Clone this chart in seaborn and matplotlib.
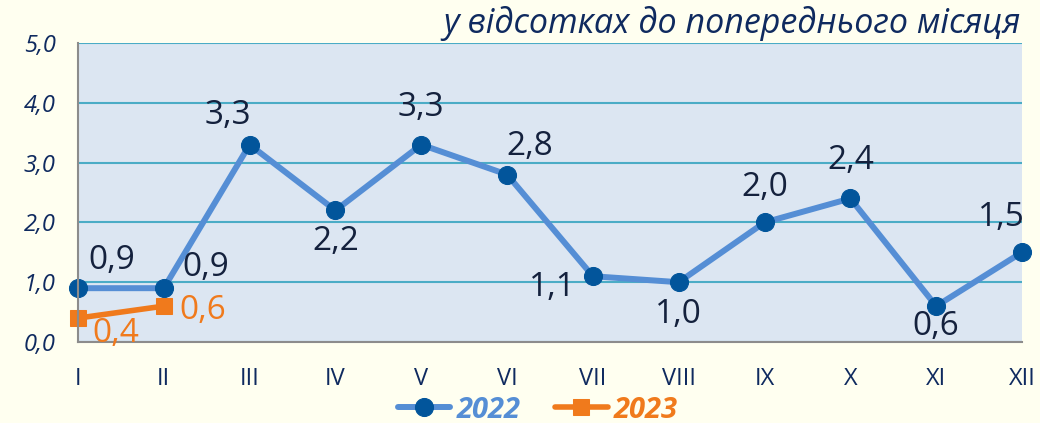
import matplotlib
matplotlib.use('Agg')
import matplotlib.pyplot as plt
import pandas as pd
import seaborn as sns

# dados
months = ['I', 'II', 'III', 'IV', 'V', 'VI', 'VII', 'VIII', 'IX', 'X', 'XI', 'XII']
values_2022 = [0.9, 0.9, 3.3, 2.2, 3.3, 2.8, 1.1, 1.0, 2.0, 2.4, 0.6, 1.5]
months_2023 = ['I', 'II']
values_2023 = [0.4, 0.6]
y_ticks = [0.0, 1.0, 2.0, 3.0, 4.0, 5.0]
title = 'у відсотках до попереднього місяця'

# deslocamento dos rótulos (pontos) - estilo
offsets_2022 = [(24, 20), (30, 15), (-16, 21), (0, -22), (0, 27), (16, 20),
                (-29, -8), (0, -23), (0, 25), (0, 27), (0, -15), (-15, 25)]
offsets_2023 = [(27, -11), (28, -3)]

df22 = pd.DataFrame({'month': months, 'value': values_2022})
df23 = pd.DataFrame({'month': months_2023, 'value': values_2023})

sns.set_style('white')
plt.rcParams['font.family'] = ['Open Sans', 'DejaVu Sans']

navy = '#0f2a5f'
blue_line = '#558ed5'
blue_dot = '#02559b'
orange = '#f07a1c'

fig, ax = plt.subplots(figsize=(10.4, 4.23), dpi=100)
fig.patch.set_facecolor('#fffff0')
ax.set_facecolor('#dce6f2')
fig.subplots_adjust(left=0.075, right=0.9827, top=0.8983, bottom=0.1915)

sns.lineplot(data=df22, x='month', y='value', ax=ax, color=blue_line, linewidth=4.3,
             marker='o', markersize=13, markerfacecolor=blue_dot,
             markeredgecolor=blue_dot, sort=False, label='2022', clip_on=False)
sns.lineplot(data=df23, x='month', y='value', ax=ax, color=orange, linewidth=4,
             marker='s', markersize=11, markerfacecolor=orange,
             markeredgecolor=orange, sort=False, label='2023', clip_on=False)

for i, (v, off) in enumerate(zip(values_2022, offsets_2022)):
    ax.annotate(f'{v:.1f}'.replace('.', ','), (i, v), xytext=off,
                textcoords='offset points', ha='center', va='center',
                fontsize=24, color='#14213d')
for i, (v, off) in enumerate(zip(values_2023, offsets_2023)):
    ax.annotate(f'{v:.1f}'.replace('.', ','), (i, v), xytext=off,
                textcoords='offset points', ha='center', va='center',
                fontsize=24, color=orange)

ax.set_xlim(0, len(months) - 1)
ax.set_ylim(0, 5)
ax.set_yticks(y_ticks)
ax.set_yticklabels([f'{t:.1f}'.replace('.', ',') for t in y_ticks],
                   fontsize=17, style='italic', color=navy)
ax.set_xticks(range(len(months)))
ax.set_xticklabels(months, fontsize=17, color=navy)
ax.tick_params(axis='both', length=7, width=1.5, color='#8c8c8c', direction='out')
ax.tick_params(axis='x', pad=11)
ax.tick_params(axis='y', pad=9)
ax.yaxis.grid(True, color='#4bacc6', linewidth=1.5)
ax.set_axisbelow(True)
ax.set_xlabel('')
ax.set_ylabel('')
for s in ['top', 'right']:
    ax.spines[s].set_visible(False)
for s in ['left', 'bottom']:
    ax.spines[s].set_color('#8c8c8c')
    ax.spines[s].set_linewidth(1.5)

fig.text(0.981, 0.945, title, ha='right', va='center', fontsize=24.5,
         style='italic', color=navy)

leg = ax.legend(loc='center', bbox_to_anchor=(0.487, -0.228), ncol=2, frameon=False,
                handlelength=1.8, handletextpad=0.2, columnspacing=1.2,
                borderpad=0.1, prop={'size': 21, 'weight': 'bold', 'style': 'italic'})
for txt, c in zip(leg.get_texts(), [blue_line, orange]):
    txt.set_color(c)

fig.savefig('out.png', dpi=100, facecolor=fig.get_facecolor())
